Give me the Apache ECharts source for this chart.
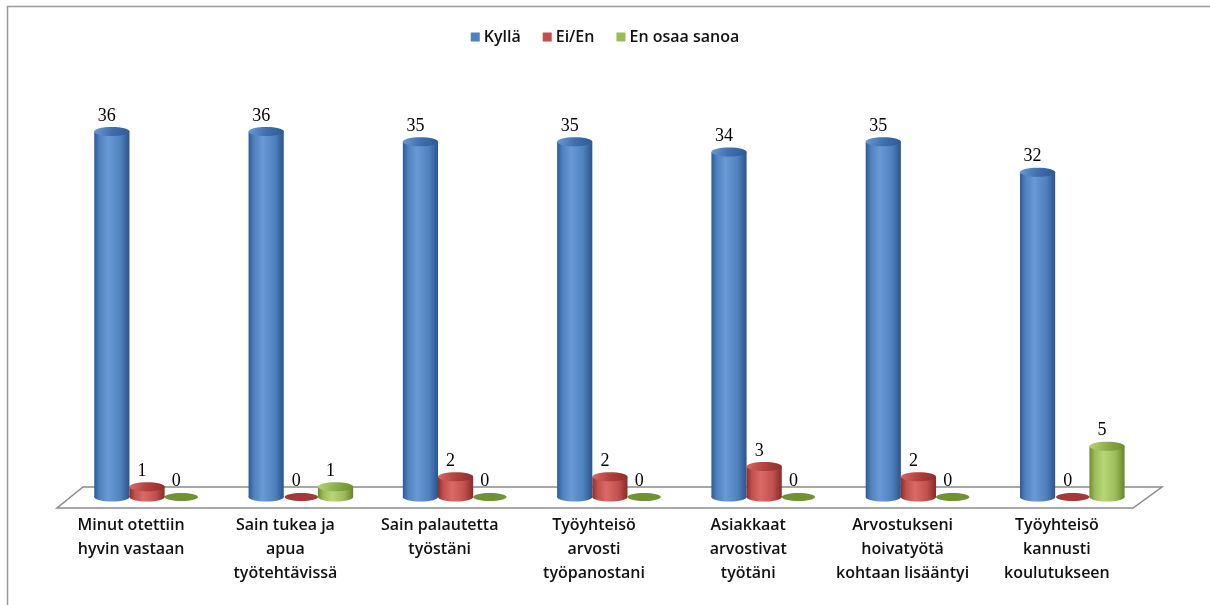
<!DOCTYPE html>
<html>
<head>
<meta charset="utf-8">
<script src="https://cdn.jsdelivr.net/npm/echarts@6/dist/echarts.min.js"></script>
<style>
  html, body { margin: 0; padding: 0; background: #fff; }
  #chart { width: 1210px; height: 605px; }
</style>
</head>
<body>
<div id="chart"></div>
<script>
// Survey answers per statement
const categories = [
  'Minut otettiin\nhyvin vastaan',
  'Sain tukea ja\napua\ntyötehtävissä',
  'Sain palautetta\ntyöstäni',
  'Työyhteisö\narvosti\ntyöpanostani',
  'Asiakkaat\narvostivat\ntyötäni',
  'Arvostukseni\nhoivatyötä\nkohtaan lisääntyi',
  'Työyhteisö\nkannusti\nkoulutukseen'
];
const seriesNames = ['Kyllä', 'Ei/En', 'En osaa sanoa'];
const kylla = [36, 36, 35, 35, 34, 35, 32];
const eiEn = [1, 0, 2, 2, 3, 2, 0];
const eos = [0, 1, 0, 0, 0, 0, 5];

// Cylinder shading per series
const palettes = [
  { base: '#4F81BD', dark: '#2D5A95', light: '#6A9AD6', right: '#2A548C', cap: '#3F6FAE', disk: '#35649F' },
  { base: '#C0504D', dark: '#8F2C29', light: '#DB6A66', right: '#8A2A27', cap: '#B0413E', disk: '#A23A37' },
  { base: '#9BBB59', dark: '#6D8C2E', light: '#B9D676', right: '#66852A', cap: '#8DAE4B', disk: '#6F9233' }
];
// Horizontal offsets of the three cylinders inside a category band (fraction of band)
const barOffsets = [-0.125, 0.103, 0.325];
const barWidthRatio = 0.228;

function cylinderRenderer(idx) {
  const pal = palettes[idx];
  return function (params, api) {
    const cat = api.value(0);
    const val = api.value(1);
    const band = api.size([1, 0])[0];
    const base = api.coord([cat, 0]);
    const top = api.coord([cat, val]);
    const cx = base[0] + barOffsets[idx] * band;
    const w = band * barWidthRatio;
    const rx = w / 2;
    const ry = 4.5;
    const children = [];
    if (val > 0) {
      const grad = new echarts.graphic.LinearGradient(0, 0, 1, 0, [
        { offset: 0, color: pal.dark },
        { offset: 0.15, color: pal.base },
        { offset: 0.4, color: pal.light },
        { offset: 0.75, color: pal.base },
        { offset: 1, color: pal.right }
      ]);
      children.push({
        type: 'ellipse',
        shape: { cx: cx, cy: base[1], rx: rx, ry: ry },
        style: { fill: grad }
      });
      children.push({
        type: 'rect',
        shape: { x: cx - rx, y: top[1], width: w, height: base[1] - top[1] },
        style: { fill: grad }
      });
      children.push({
        type: 'ellipse',
        shape: { cx: cx, cy: top[1], rx: rx, ry: ry },
        style: {
          fill: new echarts.graphic.LinearGradient(0, 0, 1, 1, [
            { offset: 0, color: pal.light },
            { offset: 0.5, color: pal.cap },
            { offset: 1, color: pal.dark }
          ])
        }
      });
    } else {
      children.push({
        type: 'ellipse',
        shape: { cx: cx, cy: base[1], rx: rx * 0.95, ry: ry - 0.5 },
        style: { fill: pal.disk }
      });
    }
    children.push({
      type: 'text',
      style: {
        text: String(val),
        x: cx - 5,
        y: top[1] - ry - 2,
        align: 'center',
        verticalAlign: 'bottom',
        font: '18px "Liberation Serif", serif',
        fill: '#000'
      }
    });
    return { type: 'group', children: children };
  };
}

function toData(arr) {
  return arr.map((v, i) => [i, v]);
}

// Slanted floor under the cylinders
function floorRenderer(params, api) {
  const cs = params.coordSys;
  const y0 = api.coord([0, 0])[1];
  const left = cs.x, right = cs.x + cs.width;
  return {
    type: 'polygon',
    shape: {
      points: [
        [left + 29, y0 - 10],
        [right + 28, y0 - 10],
        [right - 1, y0 + 11],
        [left + 3, y0 + 11]
      ]
    },
    style: { fill: '#ffffff', stroke: '#8a8a8a', lineWidth: 1.5 },
    silent: true
  };
}

const chart = echarts.init(document.getElementById('chart'), null, { renderer: 'canvas' });

const seriesData = [kylla, eiEn, eos];
const uiFont = '"Open Sans", Lato, sans-serif';

chart.setOption({
  backgroundColor: '#ffffff',
  animation: false,
  textStyle: { fontFamily: uiFont },
  graphic: [
    { type: 'line', shape: { x1: 7, y1: 6.5, x2: 1210, y2: 6.5 }, style: { stroke: '#9a9a9a', lineWidth: 1.5 }, z: 0 },
    { type: 'line', shape: { x1: 7.5, y1: 6, x2: 7.5, y2: 605 }, style: { stroke: '#9a9a9a', lineWidth: 1.5 }, z: 0 }
  ],
  legend: {
    top: 24,
    left: 'center',
    icon: 'rect',
    itemWidth: 9,
    itemHeight: 9,
    itemGap: 22,
    data: seriesNames,
    textStyle: { fontSize: 16, fontWeight: 600, color: '#111', fontFamily: uiFont, padding: [0, 0, 0, -1] }
  },
  grid: { left: 54, right: 76, top: 91, bottom: 108 },
  xAxis: {
    type: 'category',
    data: categories,
    axisLine: { show: false },
    axisTick: { show: false },
    splitLine: { show: false },
    axisLabel: {
      interval: 0,
      margin: 16,
      fontSize: 16,
      fontWeight: 600,
      lineHeight: 24,
      color: '#111',
      fontFamily: uiFont,
      verticalAlign: 'top'
    }
  },
  yAxis: {
    type: 'value',
    min: 0,
    max: 40,
    show: false,
    splitLine: { show: false }
  },
  series: [
    {
      type: 'custom',
      name: 'floor',
      data: [[0, 0]],
      encode: { x: 0, y: 1 },
      renderItem: floorRenderer,
      silent: true,
      z: 1
    }
  ].concat(seriesNames.map((name, i) => ({
    type: 'custom',
    name: name,
    data: toData(seriesData[i]),
    encode: { x: 0, y: 1 },
    itemStyle: { color: palettes[i].base },
    renderItem: cylinderRenderer(i),
    z: 2 + i
  })))
});
</script>
</body>
</html>
